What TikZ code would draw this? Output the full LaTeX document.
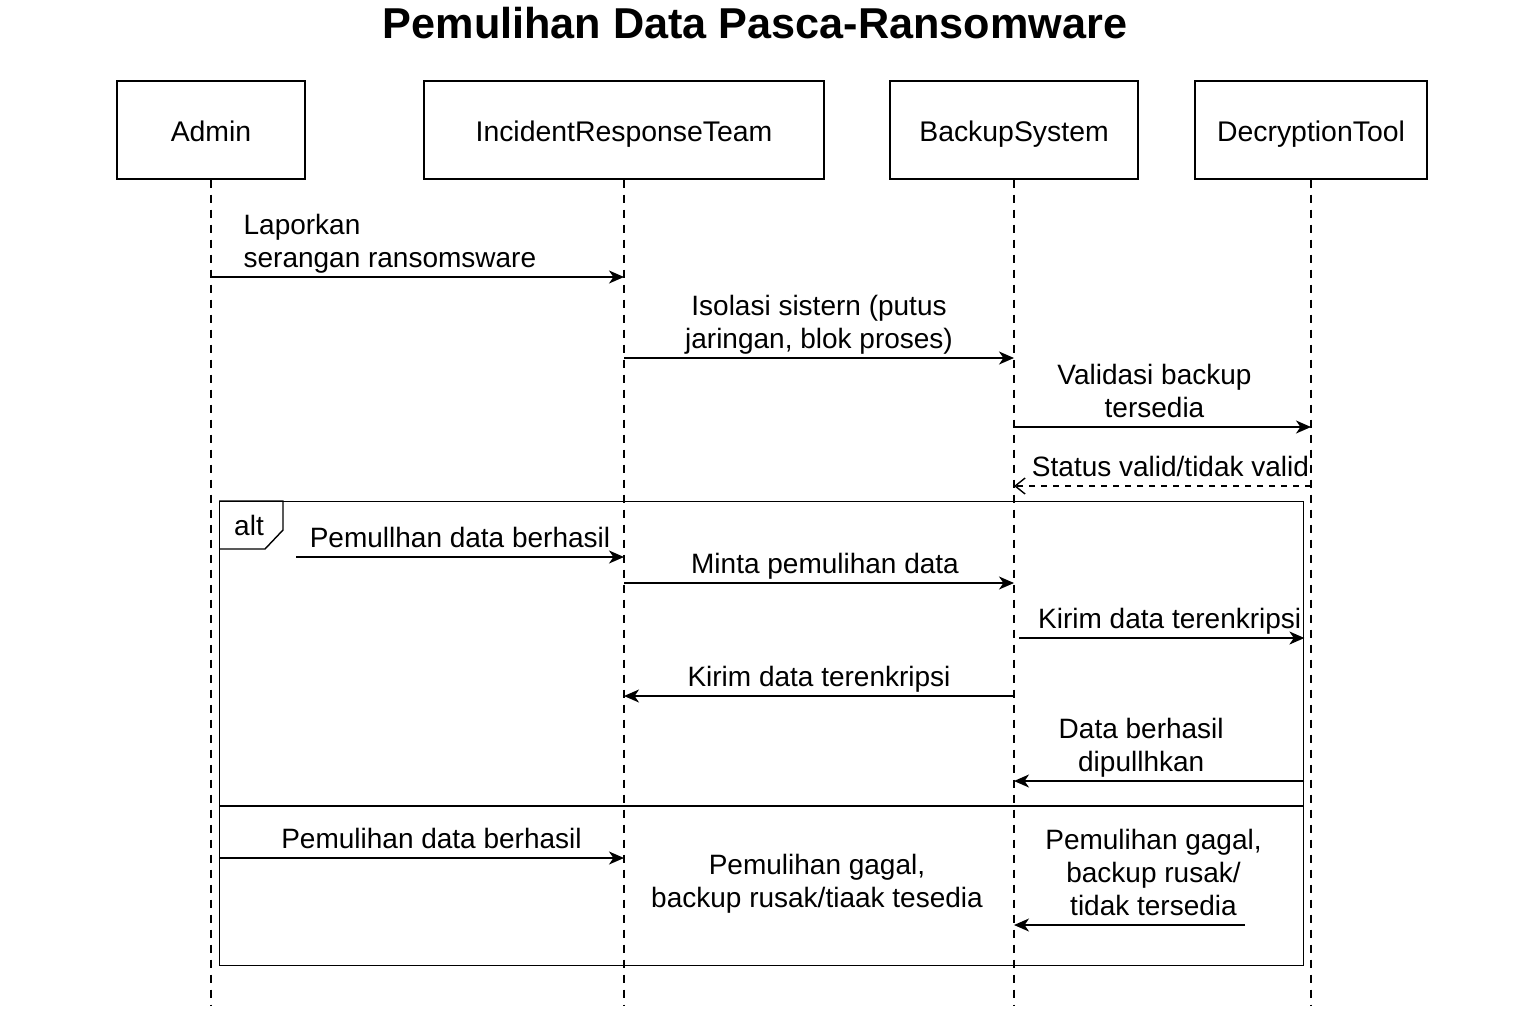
\documentclass[tikz,border=0pt]{standalone}
\usepackage{fontspec}
\setmainfont{Liberation Sans}
\usetikzlibrary{arrows.meta}
\tikzset{>={Stealth[length=7.5pt,width=6.5pt,inset=2.2pt]}}
\usetikzlibrary{positioning}

\begin{document}
\begin{tikzpicture}[x=0.5pt, y=-0.5pt, line width=0.7pt,
    head/.style={draw, minimum height=49pt, text height=12.6pt, text depth=1.2pt, font=\fontsize{14.2}{17}\selectfont},
    lifeline/.style={dash pattern=on 4pt off 3.5pt, line width=0.6pt},
    msg/.style={font=\fontsize{14}{16.5}\selectfont, align=center, inner sep=1.5pt, execute at end node={\vphantom{g}}},
    reply/.style={dashed, -{Straight Barb[length=5pt,width=8pt]}}]
  \useasboundingbox (0,0) rectangle (1536,1024);
  \node[font=\bfseries\fontsize{21.6}{26}\selectfont] (title) at (755,23) {Pemulihan Data Pasca-Ransomware};
  \node[head, minimum width=94pt] (admin) at (211,130) {Admin};
  \node[head, minimum width=200pt] (irt) at (624,130) {IncidentResponseTeam};
  \node[head, minimum width=124pt] (backup) at (1014,130) {BackupSystem};
  \node[head, minimum width=116pt] (decrypt) at (1311,130) {DecryptionTool};
  \foreach \p in {admin,irt,backup,decrypt}
    \draw[lifeline] (\p.south) -- (\p.south |- 0,1005);
  % alt frame
  \node[draw, anchor=north west, minimum width=542pt, minimum height=232pt, inner sep=0pt] (altframe) at (219,501) {};
  \draw (altframe.north west) -- ++(64,0) -- ++(0,29) -- ++(-18,19) -- ++(-46,0);
  \node[font=\fontsize{14}{16.5}\selectfont] (alttag) at (249,525) {alt};
  \draw (altframe.west |- 0,806) -- (altframe.east |- 0,806);
  \coordinate (s6) at (296,557);
  \coordinate (s13) at (1245,925);
  % messages
  \draw[->] (admin |- 0,277) -- node[msg, anchor=south west, align=left, pos=0.07] {Laporkan\\serangan ransomsware} (irt |- 0,277);
  \draw[->] (irt |- 0,358) -- node[msg, above] {Isolasi sistern (putus\\jaringan, blok proses)} (backup |- 0,358);
  \draw[->] (backup |- 0,427) -- node[msg, above, xshift=-4pt] {Validasi backup\\tersedia} (decrypt |- 0,427);
  \draw[reply] (decrypt |- 0,486) -- node[msg, above, xshift=4pt] {Status valid/tidak valid} (backup |- 0,486);
  \draw[->] (s6) -- node[msg, above] {Pemullhan data berhasil} (irt |- 0,557);
  \draw[->] (irt |- 0,583) -- node[msg, above, xshift=3pt] {Minta pemulihan data} (backup |- 0,583);
  \draw[->] ([xshift=2.5pt]backup |- 0,638) -- node[msg, above, xshift=4pt] {Kirim data terenkripsi} (altframe.east |- 0,638);
  \draw[->] (backup |- 0,696) -- node[msg, above] {Kirim data terenkripsi} (irt |- 0,696);
  \draw[->] (altframe.east |- 0,781) -- node[msg, above, xshift=-9pt] {Data berhasil\\dipullhkan} (backup |- 0,781);
  \draw[->] (altframe.west |- 0,858) -- node[msg, above, xshift=5pt] {Pemulihan data berhasil} (irt |- 0,858);
  \node[msg] (gagal) at (817,884) {Pemulihan gagal,\\backup rusak/tiaak tesedia};
  \draw[->] (s13) -- node[msg, above, xshift=12pt] {Pemulihan gagal,\\backup rusak/\\tidak tersedia} (backup |- 0,925);
\end{tikzpicture}
\end{document}
